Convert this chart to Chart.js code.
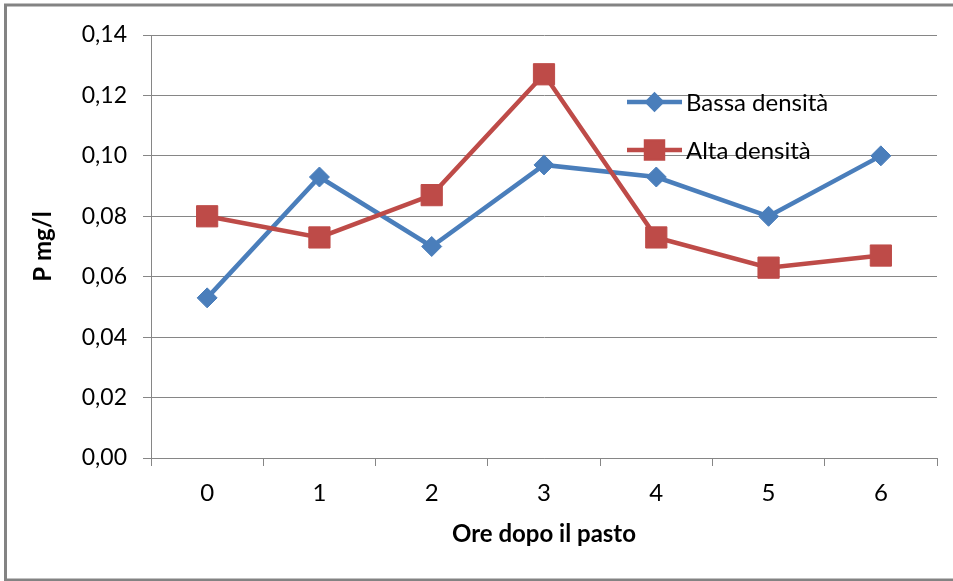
<!DOCTYPE html>
<html lang="it">
<head>
<meta charset="utf-8">
<title>P mg/l - Ore dopo il pasto</title>
<script src="https://cdn.jsdelivr.net/npm/chart.js@4.4.1/dist/chart.umd.min.js"></script>
<style>
  html, body { margin: 0; padding: 0; background: #fff; }
  #wrap { width: 953px; height: 581px; }
</style>
</head>
<body>
<div id="wrap"><canvas id="myChart" width="953" height="581"></canvas></div>
<script>
const hours = ['0', '1', '2', '3', '4', '5', '6']
const bassaDensita = [0.053, 0.093, 0.070, 0.097, 0.093, 0.080, 0.100]
const altaDensita = [0.080, 0.073, 0.087, 0.127, 0.073, 0.063, 0.067]
const yTicks = [0, 0.02, 0.04, 0.06, 0.08, 0.10, 0.12, 0.14]

const BLUE = '#4A7EBB'
const RED = '#BE4B48'
const GRID = '#868686'
const FONT = 'Lato'

// grey frame round the whole chart (right edge falls outside the canvas)
const framePlugin = {
    id: 'frame',
    beforeDraw(chart) {
        const c = chart.ctx
        c.save()
        c.strokeStyle = '#838383'
        c.lineWidth = 3
        c.beginPath()
        c.moveTo(chart.width + 10, 5)
        c.lineTo(5.5, 5)
        c.lineTo(5.5, 580)
        c.lineTo(chart.width + 10, 580)
        c.stroke()
        c.restore()
    }
}

// legend drawn inside the plot, top right
const innerLegend = {
    id: 'innerLegend',
    afterDatasetsDraw(chart) {
        const c = chart.ctx
        const x0 = 627, x1 = 682
        const rows = [102, 150]
        chart.data.datasets.forEach((ds, i) => {
            const y = rows[i]
            c.save()
            c.strokeStyle = ds.borderColor
            c.lineWidth = 4.5
            c.beginPath()
            c.moveTo(x0, y)
            c.lineTo(x1, y)
            c.stroke()
            Chart.helpers.drawPoint(c, {
                pointStyle: ds.pointStyle,
                radius: ds.pointStyle === 'rect' ? 12 : 7,
                borderWidth: 1
            }, (x0 + x1) / 2, y)
            c.fillStyle = ds.backgroundColor
            c.fill()
            c.fillStyle = '#000'
            c.font = `24px ${FONT}`
            c.textBaseline = 'middle'
            c.fillText(ds.label, 686, y + 1)
            c.restore()
        })
    }
}

const ctx = document.getElementById('myChart')

new Chart(ctx, {
    type: 'line',
    data: {
        labels: hours,
        datasets: [{
            label: 'Bassa densità',
            data: bassaDensita,
            borderColor: BLUE,
            backgroundColor: BLUE,
            borderWidth: 4.5,
            pointStyle: 'rectRot',
            pointRadius: 10,
            pointBorderWidth: 1,
            order: 1
        }, {
            label: 'Alta densità',
            data: altaDensita,
            borderColor: RED,
            backgroundColor: RED,
            borderWidth: 4.5,
            pointStyle: 'rect',
            pointRadius: 15,
            pointBorderWidth: 1,
            order: 0
        }]
    },
    options: {
        responsive: false,
        animation: false,
        layout: { padding: { top: 35, right: 13, left: 0, bottom: 0 } },
        plugins: {
            legend: { display: false },
            tooltip: { enabled: false }
        },
        elements: { line: { tension: 0 } },
        scales: {
            x: {
                offset: true,
                grid: {
                    offset: true,
                    drawOnChartArea: false,
                    drawTicks: true,
                    tickLength: 8,
                    tickColor: GRID,
                    color: GRID
                },
                border: { color: GRID },
                ticks: { color: '#000', padding: 13, font: { family: FONT, size: 24 } },
                title: {
                    display: true,
                    text: 'Ore dopo il pasto',
                    color: '#000',
                    font: { family: FONT, size: 24, weight: 'bold' },
                    padding: { top: 0, bottom: 32 }
                },
                afterFit(scale) { scale.height = 123 }
            },
            y: {
                min: 0,
                max: 0.14,
                afterBuildTicks(scale) {
                    scale.ticks = yTicks.map(v => ({ value: v }))
                },
                grid: {
                    color: GRID,
                    lineWidth: 1,
                    tickLength: 8,
                    tickColor: GRID
                },
                border: { color: GRID },
                ticks: {
                    color: '#000',
                    padding: 16,
                    font: { family: FONT, size: 23 },
                    callback: v => v.toFixed(2).replace('.', ',')
                },
                title: {
                    display: true,
                    text: 'P mg/l',
                    color: '#000',
                    font: { family: FONT, size: 24, weight: 'bold' },
                    padding: { top: 29, bottom: 0 }
                },
                afterFit(scale) { scale.width = 151 }
            }
        }
    },
    plugins: [framePlugin, innerLegend]
})
</script>
</body>
</html>
